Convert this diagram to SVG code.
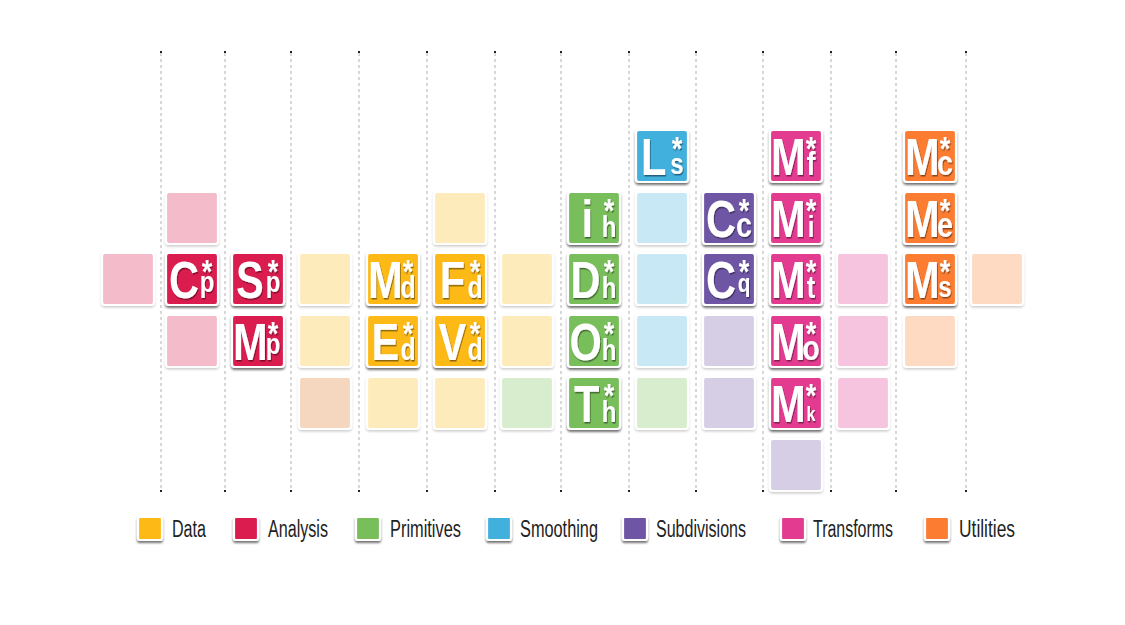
<svg xmlns="http://www.w3.org/2000/svg" width="1125" height="625" viewBox="0 0 1125 625">
<defs>
<filter id="sh" x="-20%" y="-20%" width="140%" height="150%"><feDropShadow dx="0" dy="2" stdDeviation="0.9" flood-color="#000" flood-opacity="0.55"/></filter>
<filter id="shl" x="-20%" y="-20%" width="140%" height="150%"><feDropShadow dx="0" dy="1.5" stdDeviation="1.2" flood-color="#000" flood-opacity="0.2"/></filter>
<filter id="ts" x="-30%" y="-30%" width="160%" height="160%"><feDropShadow dx="1" dy="1.5" stdDeviation="0.7" flood-color="#000" flood-opacity="0.45"/></filter>
</defs>
<style>
.t{stroke:#fff;stroke-width:2.2}
.f{filter:url(#sh)}
.l{filter:url(#shl)}
.an{fill:#db1b50}.anl{fill:#f4bbca}
.da{fill:#fdb913}.dal{fill:#feebbb}
.pr{fill:#78be5a}.prl{fill:#d8edcd}
.sm{fill:#43b0dd}.sml{fill:#c7e8f4}
.sd{fill:#6e56a5}.sdl{fill:#d6cee4}
.tr{fill:#e23b8f}.trl{fill:#f6c4de}
.ut{fill:#fc7d33}.utl{fill:#fedac2}
.pe{fill:#f5d6bf}
.tx{font-family:"Liberation Sans",Arial,sans-serif;font-weight:bold;fill:#fff;text-anchor:middle;filter:url(#ts)}
.b{font-size:52px}
.s{font-size:34px}
.grid line{stroke:#b0b0b0;stroke-width:1;stroke-dasharray:3 3}
.grid rect{fill:#222}
.lg{font-family:"Liberation Sans Narrow","Liberation Sans",Arial,sans-serif;font-size:23px;fill:#222}
</style>
<rect width="1125" height="625" fill="#fff"/>
<g id="connectors" class="grid">
<line x1="161" y1="53" x2="161" y2="491"/><rect x="160" y="51" width="2" height="2"/><rect x="160" y="490" width="2" height="2"/>
<line x1="225" y1="53" x2="225" y2="491"/><rect x="224" y="51" width="2" height="2"/><rect x="224" y="490" width="2" height="2"/>
<line x1="291" y1="53" x2="291" y2="491"/><rect x="290" y="51" width="2" height="2"/><rect x="290" y="490" width="2" height="2"/>
<line x1="359" y1="53" x2="359" y2="491"/><rect x="358" y="51" width="2" height="2"/><rect x="358" y="490" width="2" height="2"/>
<line x1="427" y1="53" x2="427" y2="491"/><rect x="426" y="51" width="2" height="2"/><rect x="426" y="490" width="2" height="2"/>
<line x1="495" y1="53" x2="495" y2="491"/><rect x="494" y="51" width="2" height="2"/><rect x="494" y="490" width="2" height="2"/>
<line x1="561" y1="53" x2="561" y2="491"/><rect x="560" y="51" width="2" height="2"/><rect x="560" y="490" width="2" height="2"/>
<line x1="629" y1="53" x2="629" y2="491"/><rect x="628" y="51" width="2" height="2"/><rect x="628" y="490" width="2" height="2"/>
<line x1="696" y1="53" x2="696" y2="491"/><rect x="695" y="51" width="2" height="2"/><rect x="695" y="490" width="2" height="2"/>
<line x1="763" y1="53" x2="763" y2="491"/><rect x="762" y="51" width="2" height="2"/><rect x="762" y="490" width="2" height="2"/>
<line x1="831" y1="53" x2="831" y2="491"/><rect x="830" y="51" width="2" height="2"/><rect x="830" y="490" width="2" height="2"/>
<line x1="896" y1="53" x2="896" y2="491"/><rect x="895" y="51" width="2" height="2"/><rect x="895" y="490" width="2" height="2"/>
<line x1="966" y1="53" x2="966" y2="491"/><rect x="965" y="51" width="2" height="2"/><rect x="965" y="490" width="2" height="2"/>
</g>

<!-- faded tiles -->
<g id="c0r2"><rect class="t l anl" x="102" y="253" width="52" height="52" rx="3"/></g>
<g id="c1r1"><rect class="t l anl" x="166" y="192" width="52" height="52" rx="3"/></g>
<g id="c1r3"><rect class="t l anl" x="166" y="315" width="52" height="52" rx="3"/></g>
<g id="c3r2"><rect class="t l dal" x="299" y="253" width="52" height="52" rx="3"/></g>
<g id="c3r3"><rect class="t l dal" x="299" y="315" width="52" height="52" rx="3"/></g>
<g id="c3r4"><rect class="t l pe" x="299" y="377" width="52" height="52" rx="3"/></g>
<g id="c4r4"><rect class="t l dal" x="367" y="377" width="52" height="52" rx="3"/></g>
<g id="c5r1"><rect class="t l dal" x="434" y="192" width="52" height="52" rx="3"/></g>
<g id="c5r4"><rect class="t l dal" x="434" y="377" width="52" height="52" rx="3"/></g>
<g id="c6r2"><rect class="t l dal" x="501" y="253" width="52" height="52" rx="3"/></g>
<g id="c6r3"><rect class="t l dal" x="501" y="315" width="52" height="52" rx="3"/></g>
<g id="c6r4"><rect class="t l prl" x="501" y="377" width="52" height="52" rx="3"/></g>
<g id="c8r1"><rect class="t l sml" x="636" y="192" width="52" height="52" rx="3"/></g>
<g id="c8r2"><rect class="t l sml" x="636" y="253" width="52" height="52" rx="3"/></g>
<g id="c8r3"><rect class="t l sml" x="636" y="315" width="52" height="52" rx="3"/></g>
<g id="c8r4"><rect class="t l prl" x="636" y="377" width="52" height="52" rx="3"/></g>
<g id="c9r3"><rect class="t l sdl" x="703" y="315" width="52" height="52" rx="3"/></g>
<g id="c9r4"><rect class="t l sdl" x="703" y="377" width="52" height="52" rx="3"/></g>
<g id="c10r5"><rect class="t l sdl" x="770" y="439" width="52" height="52" rx="3"/></g>
<g id="c11r2"><rect class="t l trl" x="837" y="253" width="52" height="52" rx="3"/></g>
<g id="c11r3"><rect class="t l trl" x="837" y="315" width="52" height="52" rx="3"/></g>
<g id="c11r4"><rect class="t l trl" x="837" y="377" width="52" height="52" rx="3"/></g>
<g id="c12r3"><rect class="t l utl" x="904" y="315" width="52" height="52" rx="3"/></g>
<g id="c13r2"><rect class="t l utl" x="971" y="253" width="52" height="52" rx="3"/></g>

<!-- filled tiles -->
<g id="Cp" transform="translate(166,253)"><rect class="t f an" width="52" height="52" rx="3"/><text class="tx" transform="scale(0.8,1)"><tspan class="b" x="22.5" y="45">C</tspan><tspan class="s" x="51.25" y="30">*</tspan><tspan x="51.25" y="39" font-size="30">p</tspan></text></g>
<g id="Sp" transform="translate(232,253)"><rect class="t f an" width="52" height="52" rx="3"/><text class="tx" transform="scale(0.8,1)"><tspan class="b" x="22.5" y="45">S</tspan><tspan class="s" x="51.25" y="30">*</tspan><tspan x="51.25" y="39" font-size="30">p</tspan></text></g>
<g id="Mp" transform="translate(232,315)"><rect class="t f an" width="52" height="52" rx="3"/><text class="tx" transform="scale(0.8,1)"><tspan class="b" x="23" y="45">M</tspan><tspan class="s" x="51.25" y="30">*</tspan><tspan x="51.25" y="39" font-size="30">p</tspan></text></g>
<g id="Md" transform="translate(367,253)"><rect class="t f da" width="52" height="52" rx="3"/><text class="tx" transform="scale(0.8,1)"><tspan class="b" x="23" y="45">M</tspan><tspan class="s" x="51.25" y="30">*</tspan><tspan x="51.25" y="45" font-size="31">d</tspan></text></g>
<g id="Ed" transform="translate(367,315)"><rect class="t f da" width="52" height="52" rx="3"/><text class="tx" transform="scale(0.8,1)"><tspan class="b" x="23" y="45">E</tspan><tspan class="s" x="51.25" y="30">*</tspan><tspan x="51.25" y="45" font-size="31">d</tspan></text></g>
<g id="Fd" transform="translate(434,253)"><rect class="t f da" width="52" height="52" rx="3"/><text class="tx" transform="scale(0.8,1)"><tspan class="b" x="23" y="45">F</tspan><tspan class="s" x="51.25" y="30">*</tspan><tspan x="51.25" y="45" font-size="31">d</tspan></text></g>
<g id="Vd" transform="translate(434,315)"><rect class="t f da" width="52" height="52" rx="3"/><text class="tx" transform="scale(0.8,1)"><tspan class="b" x="23" y="45">V</tspan><tspan class="s" x="51.25" y="30">*</tspan><tspan x="51.25" y="45" font-size="31">d</tspan></text></g>
<g id="ih" transform="translate(568,192)"><rect class="t f pr" width="52" height="52" rx="3"/><text class="tx" transform="scale(0.8,1)"><tspan class="b" x="24" y="45">i</tspan><tspan class="s" x="51.25" y="30">*</tspan><tspan x="51.25" y="45" font-size="30">h</tspan></text></g>
<g id="Dh" transform="translate(568,253)"><rect class="t f pr" width="52" height="52" rx="3"/><text class="tx" transform="scale(0.8,1)"><tspan class="b" x="22" y="45">D</tspan><tspan class="s" x="51.25" y="30">*</tspan><tspan x="51.25" y="45" font-size="30">h</tspan></text></g>
<g id="Oh" transform="translate(568,315)"><rect class="t f pr" width="52" height="52" rx="3"/><text class="tx" transform="scale(0.8,1)"><tspan class="b" x="22" y="45">O</tspan><tspan class="s" x="51.25" y="30">*</tspan><tspan x="51.25" y="45" font-size="30">h</tspan></text></g>
<g id="Th" transform="translate(568,377)"><rect class="t f pr" width="52" height="52" rx="3"/><text class="tx" transform="scale(0.8,1)"><tspan class="b" x="23.5" y="45">T</tspan><tspan class="s" x="51.25" y="30">*</tspan><tspan x="51.25" y="45" font-size="30">h</tspan></text></g>
<g id="Ls" transform="translate(636,130)"><rect class="t f sm" width="52" height="52" rx="3"/><text class="tx" transform="scale(0.8,1)"><tspan class="b" x="22" y="45">L</tspan><tspan class="s" x="51.25" y="30">*</tspan><tspan x="51.25" y="44" font-size="30">s</tspan></text></g>
<g id="Cc" transform="translate(703,192)"><rect class="t f sd" width="52" height="52" rx="3"/><text class="tx" transform="scale(0.8,1)"><tspan class="b" x="22.5" y="45">C</tspan><tspan class="s" x="51.25" y="30">*</tspan><tspan x="51.25" y="45" font-size="36">c</tspan></text></g>
<g id="Cq" transform="translate(703,253)"><rect class="t f sd" width="52" height="52" rx="3"/><text class="tx" transform="scale(0.8,1)"><tspan class="b" x="22.5" y="45">C</tspan><tspan class="s" x="51.25" y="30">*</tspan><tspan x="51.25" y="39" font-size="26">q</tspan></text></g>
<g id="Mf" transform="translate(770,130)"><rect class="t f tr" width="52" height="52" rx="3"/><text class="tx" transform="scale(0.8,1)"><tspan class="b" x="23" y="45">M</tspan><tspan class="s" x="51.25" y="30">*</tspan><tspan x="51.25" y="45" font-size="34">f</tspan></text></g>
<g id="Mi" transform="translate(770,192)"><rect class="t f tr" width="52" height="52" rx="3"/><text class="tx" transform="scale(0.8,1)"><tspan class="b" x="23" y="45">M</tspan><tspan class="s" x="51.25" y="30">*</tspan><tspan x="51.25" y="45" font-size="30">i</tspan></text></g>
<g id="Mt" transform="translate(770,253)"><rect class="t f tr" width="52" height="52" rx="3"/><text class="tx" transform="scale(0.8,1)"><tspan class="b" x="23" y="45">M</tspan><tspan class="s" x="51.25" y="30">*</tspan><tspan x="51.25" y="45" font-size="32">t</tspan></text></g>
<g id="Mo" transform="translate(770,315)"><rect class="t f tr" width="52" height="52" rx="3"/><text class="tx" transform="scale(0.8,1)"><tspan class="b" x="23" y="45">M</tspan><tspan class="s" x="51.25" y="30">*</tspan><tspan x="51.25" y="45" font-size="36">o</tspan></text></g>
<g id="Mk" transform="translate(770,377)"><rect class="t f tr" width="52" height="52" rx="3"/><text class="tx" transform="scale(0.8,1)"><tspan class="b" x="23" y="45">M</tspan><tspan class="s" x="51.25" y="30">*</tspan><tspan x="51.25" y="44" font-size="20">k</tspan></text></g>
<g id="Mc" transform="translate(904,130)"><rect class="t f ut" width="52" height="52" rx="3"/><text class="tx" transform="scale(0.8,1)"><tspan class="b" x="23" y="45">M</tspan><tspan class="s" x="51.25" y="30">*</tspan><tspan x="51.25" y="45" font-size="36">c</tspan></text></g>
<g id="Me" transform="translate(904,192)"><rect class="t f ut" width="52" height="52" rx="3"/><text class="tx" transform="scale(0.8,1)"><tspan class="b" x="23" y="45">M</tspan><tspan class="s" x="51.25" y="30">*</tspan><tspan x="51.25" y="45" font-size="36">e</tspan></text></g>
<g id="Ms" transform="translate(904,253)"><rect class="t f ut" width="52" height="52" rx="3"/><text class="tx" transform="scale(0.8,1)"><tspan class="b" x="23" y="45">M</tspan><tspan class="s" x="51.25" y="30">*</tspan><tspan x="51.25" y="44" font-size="30">s</tspan></text></g>

<!-- legend -->
<g id="legend-data"><rect class="t f da" x="138" y="517" width="24" height="23" rx="2"/><text class="lg" x="172" y="537" textLength="34" lengthAdjust="spacingAndGlyphs">Data</text></g>
<g id="legend-analysis"><rect class="t f an" x="234" y="517" width="24" height="23" rx="2"/><text class="lg" x="268" y="537" textLength="60" lengthAdjust="spacingAndGlyphs">Analysis</text></g>
<g id="legend-primitives"><rect class="t f pr" x="356" y="517" width="24" height="23" rx="2"/><text class="lg" x="390" y="537" textLength="71" lengthAdjust="spacingAndGlyphs">Primitives</text></g>
<g id="legend-smoothing"><rect class="t f sm" x="487" y="517" width="24" height="23" rx="2"/><text class="lg" x="520" y="537" textLength="78" lengthAdjust="spacingAndGlyphs">Smoothing</text></g>
<g id="legend-subdivisions"><rect class="t f sd" x="623" y="517" width="24" height="23" rx="2"/><text class="lg" x="656" y="537" textLength="90" lengthAdjust="spacingAndGlyphs">Subdivisions</text></g>
<g id="legend-transforms"><rect class="t f tr" x="781" y="517" width="24" height="23" rx="2"/><text class="lg" x="813" y="537" textLength="80" lengthAdjust="spacingAndGlyphs">Transforms</text></g>
<g id="legend-utilities"><rect class="t f ut" x="925" y="517" width="24" height="23" rx="2"/><text class="lg" x="959" y="537" textLength="56" lengthAdjust="spacingAndGlyphs">Utilities</text></g>
</svg>
